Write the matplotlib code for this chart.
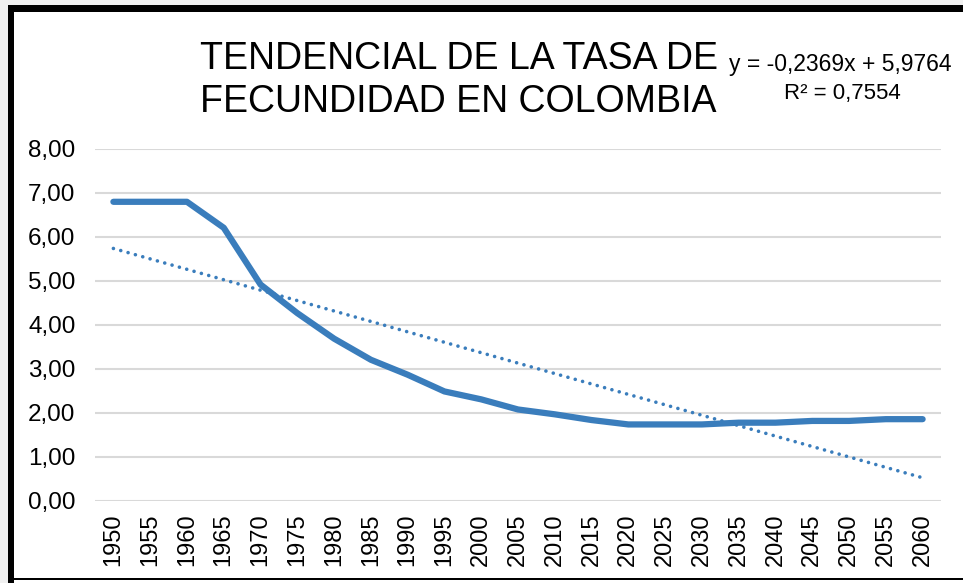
import matplotlib.pyplot as plt
import numpy as np
from matplotlib.patches import Rectangle

years = ['1950', '1955', '1960', '1965', '1970', '1975', '1980', '1985', '1990', '1995', '2000',
         '2005', '2010', '2015', '2020', '2025', '2030', '2035', '2040', '2045', '2050', '2055', '2060']
tasa = [6.80, 6.80, 6.80, 6.21, 4.92, 4.27, 3.69, 3.21, 2.87, 2.49, 2.31,
        2.08, 1.97, 1.84, 1.74, 1.74, 1.74, 1.78, 1.78, 1.82, 1.82, 1.86, 1.86]
slope = -0.2369
intercept = 5.9764
yticks = [0, 1, 2, 3, 4, 5, 6, 7, 8]

plt.rcParams.update({
    'font.family': ['Liberation Sans', 'DejaVu Sans'],
})

W, H = 963, 583
fig = plt.figure(figsize=(W / 100, H / 100), dpi=100)
fig.patch.set_facecolor('white')

# frame like the screenshot: grey margin, thick black left/top, thin bottom
def px_rect(x0, y0, x1, y1, color):
    fig.add_artist(Rectangle((x0 / W, 1 - y1 / H), (x1 - x0) / W, (y1 - y0) / H,
                             transform=fig.transFigure, color=color, lw=0, zorder=0))

px_rect(0, 0, W, 5, '#f0f0f0')
px_rect(0, 0, 8, H, '#f0f0f0')
px_rect(8, 5, W, 12, 'black')
px_rect(8, 5, 14, H, 'black')
px_rect(8, 578, W, 580, 'black')

ax = fig.add_axes([95 / W, 1 - 501 / H, (941 - 95) / W, (501 - 149) / H])
x = np.arange(len(years))
ax.plot(x, tasa, color='#3a7dbc', lw=4.5, solid_capstyle='round', solid_joinstyle='round', zorder=3)
trend = slope * (x + 1) + intercept
ax.plot(x, trend, color='#3a7dbc', lw=2.6, linestyle=(0, (0.01, 2.1)), dash_capstyle='round', zorder=2)

ax.set_xlim(-0.5, len(years) - 0.5)
ax.set_ylim(0, 8)
ax.set_yticks(yticks)
ax.set_yticklabels([f'{v:.2f}'.replace('.', ',') for v in yticks], fontsize=17.5)
ax.set_xticks(x)
ax.set_xticklabels(years, rotation=90, fontsize=17)
ax.tick_params(length=0, pad=9)
ax.tick_params(axis='y', pad=14)
ax.grid(axis='y', color='#d9d9d9', lw=1.5)
ax.set_axisbelow(True)
for s in ax.spines.values():
    s.set_visible(False)

fig.text(200 / W, 1 - 59 / H, 'TENDENCIAL DE LA TASA DE', fontsize=27, ha='left', va='center')
fig.text(200 / W, 1 - 102 / H, 'FECUNDIDAD EN COLOMBIA', fontsize=27, ha='left', va='center')
fig.text(840 / W, 1 - 65 / H, 'y = -0,2369x + 5,9764', fontsize=16.5, ha='center', va='center')
fig.text(842 / W, 1 - 93 / H, 'R² = 0,7554', fontsize=16, ha='center', va='center')

fig.savefig('out.png', dpi=100)
